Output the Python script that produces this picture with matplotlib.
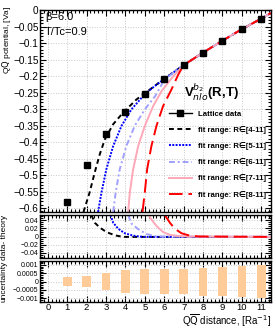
import matplotlib
matplotlib.use("Agg")
import matplotlib.pyplot as plt
from matplotlib.lines import Line2D
from matplotlib.ticker import MultipleLocator, FixedLocator, FixedFormatter
import numpy as np

plt.rcParams['font.family'] = ['Liberation Sans', 'DejaVu Sans']

# lattice data
R_lat = [1, 2, 3, 4, 5, 6, 7, 8, 9, 10, 11]
V_lat = [-0.582, -0.470, -0.376, -0.309, -0.255, -0.208, -0.167, -0.129, -0.093, -0.058, -0.026]
unc_lat = [0.00028, 0.00033, 0.0005, 0.00068, 0.00073, 0.00074, 0.00073, 0.00084, 0.00088, 0.00092, 0.00097]

# shared large-R part of all fit curves
tail_R = [7.0, 8.0, 9.0, 10.0, 11.0, 11.5]
tail_V = [-0.167, -0.129, -0.093, -0.058, -0.026, -0.009]

fit_labels = ["fit range: R\u2208[4-11]", "fit range: R\u2208[5-11]", "fit range: R\u2208[6-11]",
              "fit range: R\u2208[7-11]", "fit range: R\u2208[8-11]"]
fit_R = [
    [1.84, 2.16, 2.42, 2.68, 2.94, 3.37, 3.88, 4.57, 5.26, 5.94, 6.5],
    [2.59, 2.77, 3.02, 3.37, 3.8, 4.31, 5.0, 5.5, 6.0, 6.5],
    [3.37, 3.5, 3.71, 4.05, 4.48, 5.0, 5.52, 6.0, 6.5],
    [4.14, 4.23, 4.4, 4.66, 5.0, 5.43, 5.86, 6.46],
    [4.88, 5.0, 5.12, 5.34, 5.6, 5.94, 6.37, 6.72],
]
fit_V = [
    [-0.612, -0.552, -0.492, -0.437, -0.392, -0.346, -0.311, -0.271, -0.241, -0.211, -0.188],
    [-0.612, -0.552, -0.482, -0.412, -0.351, -0.301, -0.255, -0.231, -0.209, -0.188],
    [-0.612, -0.552, -0.482, -0.412, -0.351, -0.301, -0.262, -0.212, -0.189],
    [-0.612, -0.552, -0.482, -0.412, -0.351, -0.291, -0.246, -0.201],
    [-0.612, -0.552, -0.482, -0.412, -0.351, -0.291, -0.241, -0.196],
]
# data - theory
diff_R = [
    [2.25, 2.42, 2.68, 3.02, 3.45, 3.88, 4.5, 11.5],
    [3.23, 3.37, 3.63, 3.97, 4.4, 4.91, 11.5],
    [4.14, 4.31, 4.66, 5.09, 5.6, 11.5],
    [5.2, 5.34, 5.6, 5.94, 6.29, 6.63, 7.2, 11.5],
    [6.03, 6.29, 6.55, 6.89, 7.32, 7.84, 11.5],
]
diff_V = [
    [0.053, 0.034, 0.022, 0.011, 0.003, -0.001, -0.001, -0.001],
    [0.053, 0.034, 0.019, 0.008, 0.002, -0.001, -0.001],
    [0.053, 0.032, 0.018, 0.006, 0.0, -0.001],
    [0.053, 0.042, 0.026, 0.011, 0.004, 0.002, 0.0, -0.001],
    [0.053, 0.034, 0.019, 0.008, 0.002, 0.0, -0.001],
]

colors = ["black", "#0000ff", "#a0a0ff", "#ffa8b8", "#ff0000"]
styles = [(0, (2.5, 1.8)), (0, (1, 0.7)), (0, (3, 1.5, 1, 1.5)), "-", (0, (7, 3))]

main_yticks = [0, -0.05, -0.1, -0.15, -0.2, -0.25, -0.3, -0.35, -0.4, -0.45, -0.5, -0.55, -0.6]
main_ylabels = ["0", "\u22120.05", "\u22120.1", "\u22120.15", "\u22120.2", "\u22120.25", "\u22120.3",
                "\u22120.35", "\u22120.4", "\u22120.45", "\u22120.5", "\u22120.55", "\u22120.6"]
mid_yticks = [0.04, 0.02, 0, -0.02, -0.04]
mid_ylabels = ["0.04", "0.02", "0", "\u22120.02", "\u22120.04"]
bot_yticks = [0.001, 0.0005, 0, -0.0005, -0.001]
bot_ylabels = ["0.001", "0.0005", "0", "\u22120.0005", "\u22120.001"]

W, H = 276, 329
fig = plt.figure(figsize=(W / 100, H / 100), dpi=100)

def box(l, t, r, b):
    return [l / W, 1 - b / H, (r - l) / W, (b - t) / H]

ax = fig.add_axes(box(40, 10, 271, 212))
ax2 = fig.add_axes(box(40, 215, 271, 258))
ax3 = fig.add_axes(box(40, 261, 271, 302))

for a in (ax, ax2, ax3):
    a.set_xlim(-0.4, 11.5)
    a.xaxis.set_major_locator(MultipleLocator(1))
    a.xaxis.set_minor_locator(MultipleLocator(0.2))
    a.tick_params(which='both', direction='in', top=True, right=True, width=0.8)
    a.tick_params(which='major', length=4.5)
    a.tick_params(which='minor', length=2.3)
    a.grid(True, which='major', color='#c8c8c8', linestyle=':', linewidth=0.7)
    a.set_axisbelow(True)
    for s in a.spines.values():
        s.set_linewidth(1.0)
for a in (ax, ax2):
    a.tick_params(labelbottom=False)

# main panel
for i in range(5):
    rr = fit_R[i] + [r for r in tail_R if r > fit_R[i][-1]]
    vv = fit_V[i] + [v for r, v in zip(tail_R, tail_V) if r > fit_R[i][-1]]
    ax.plot(rr, vv, color=colors[i], linestyle=styles[i], lw=1.4, label=fit_labels[i])
ax.plot(R_lat, V_lat, 's', color='black', ms=4.5, zorder=5)
ax.set_ylim(-0.612, 0)
ax.yaxis.set_major_locator(FixedLocator(main_yticks))
ax.yaxis.set_major_formatter(FixedFormatter(main_ylabels))
ax.yaxis.set_minor_locator(MultipleLocator(0.01))
ax.tick_params(axis='y', labelsize=7.2, pad=1)
ax.set_ylabel("Q$\\overline{\\rm Q}$ potential, [Va]", fontsize=8, loc='top')
ax.yaxis.label.set_va('center')
ax.yaxis.set_label_coords(-0.1, 1.02)

ax.text(0.022, 0.965, "\u03b2=6.0", transform=ax.transAxes, fontsize=8, va='center')
ax.text(0.022, 0.893, "T/Tc=0.9", transform=ax.transAxes, fontsize=8, va='center')
ax.text(0.622, 0.59, "V$_{nlo}^{b_2}$(R,T)", transform=ax.transAxes, fontsize=9.5,
        fontweight='bold', va='center')

handles = [Line2D([], [], color='black', marker='s', ms=4.5, lw=1.0)]
handles += [Line2D([], [], color=colors[i], linestyle=styles[i], lw=1.4) for i in range(5)]
labels = ["Lattice data"] + fit_labels
ax.legend(handles, labels, loc='upper left', bbox_to_anchor=(0.535, 0.53), frameon=False,
          prop={'size': 5.6, 'weight': 'bold'}, handlelength=2.9, handletextpad=0.8,
          labelspacing=1.05, borderpad=0.2)

# data - theory
for i in range(5):
    ax2.plot(diff_R[i], diff_V[i], color=colors[i], linestyle=styles[i], lw=1.4)
ax2.set_ylim(-0.053, 0.053)
ax2.yaxis.set_major_locator(FixedLocator(mid_yticks))
ax2.yaxis.set_major_formatter(FixedFormatter(mid_ylabels))
ax2.yaxis.set_minor_locator(MultipleLocator(0.005))
ax2.tick_params(axis='y', labelsize=5, pad=1)
ax2.set_ylabel("data- theory", fontsize=6, loc='top')
ax2.yaxis.set_label_coords(-0.14, 1.0)

# uncertainty
unc = np.array(unc_lat)
ax3.bar(R_lat, 2 * unc, bottom=-unc, width=0.45, color='#ffcc99', zorder=3)
ax3.set_ylim(-0.00123, 0.00123)
ax3.yaxis.set_major_locator(FixedLocator(bot_yticks))
ax3.yaxis.set_major_formatter(FixedFormatter(bot_ylabels))
ax3.yaxis.set_minor_locator(MultipleLocator(0.0001))
ax3.tick_params(axis='y', labelsize=5, pad=1)
ax3.tick_params(axis='x', labelsize=6.8, pad=0.5)
ax3.set_ylabel("uncertainty", fontsize=6, loc='top')
ax3.yaxis.set_label_coords(-0.14, 1.0)
ax3.set_xlabel("Q$\\overline{\\rm Q}$ distance, [Ra$^{-1}$]", fontsize=7, loc='right')
ax3.xaxis.label.set_va('center')

# fit the axis titles into the gap between tick labels and the figure edge
fig.canvas.draw()
rend = fig.canvas.get_renderer()
tick_left = min(t.get_window_extent(rend).x0 for t in ax.get_yticklabels())
ylab = ax.yaxis.label
while ylab.get_window_extent(rend).width > tick_left - 1.0 and ylab.get_fontsize() > 6.0:
    ylab.set_fontsize(ylab.get_fontsize() - 0.25)
xc = (tick_left / 2 - ax.bbox.x0) / ax.bbox.width
ax.yaxis.set_label_coords(xc, 1.02)

tick_bot = min(t.get_window_extent(rend).y0 for t in ax3.get_xticklabels())
xlab = ax3.xaxis.label
while xlab.get_window_extent(rend).height > tick_bot - 0.5 and xlab.get_fontsize() > 6.5:
    xlab.set_fontsize(xlab.get_fontsize() - 0.25)
yc = (tick_bot / 2 - ax3.bbox.y0) / ax3.bbox.height
ax3.xaxis.set_label_coords(1.0, yc)

fig.savefig("out.png", dpi=100)
